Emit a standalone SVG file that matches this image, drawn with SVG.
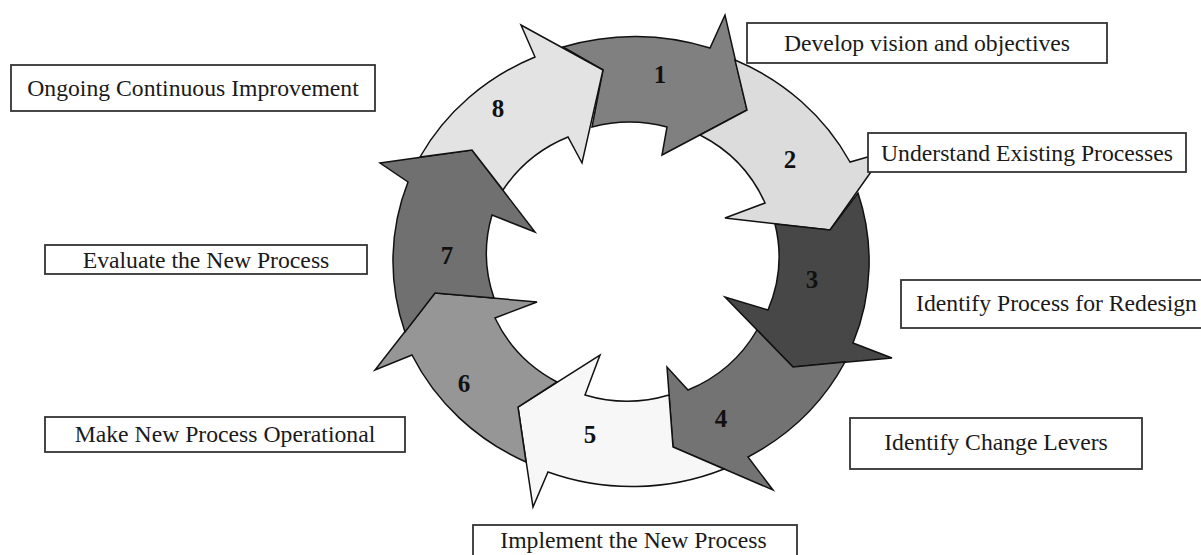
<svg xmlns="http://www.w3.org/2000/svg" width="1201" height="555" viewBox="0 0 1201 555">
<style>
.arr{stroke:#111;stroke-width:1.5;stroke-linejoin:miter}
.num{font-family:"Liberation Serif","Times New Roman",serif;font-weight:bold;font-size:25px;fill:#111;text-anchor:middle}
.box{fill:#fff;stroke:#333;stroke-width:1.8}
.lbl{font-family:"Liberation Serif","Times New Roman",serif;font-size:23.7px;fill:#1a1a1a;text-anchor:middle}
</style>
<rect width="1201" height="555" fill="#fff"/>
<g id="cycle">
<g id="arrow1"><path class="arr" fill="#808080" d="M563 47 A238 226 0 0 1 710 48 L725 15 L747 110 L662 155 L667 127 A143 139 0 0 0 592 127 L603 70 Z"/><text class="num" x="660" y="83">1</text></g>
<g id="arrow2"><path class="arr" fill="#dcdcdc" d="M735 60 A238 226 0 0 1 850 162 L885 152 L830 230 L725 218 L765 203 A143 139 0 0 0 700 135 L747 110 Z"/><text class="num" x="790" y="168">2</text></g>
<g id="arrow3"><path class="arr" fill="#474747" d="M858 193 A238 226 0 0 1 853 343 L892 358 L793 367 L725 297 L768 310 A143 139 0 0 0 775 224 L830 230 Z"/><text class="num" x="812" y="288">3</text></g>
<g id="arrow4"><path class="arr" fill="#737373" d="M845 362 A238 226 0 0 1 748 457 L773 490 L673 447 L667 367 L688 390 A143 139 0 0 0 757 330 L793 367 Z"/><text class="num" x="721" y="427">4</text></g>
<g id="arrow5"><path class="arr" fill="#f7f7f7" d="M724 469 A238 226 0 0 1 548 472 L533 507 L518 407 L600 355 L585 395 A143 139 0 0 0 669 395 L673 447 Z"/><text class="num" x="590" y="443">5</text></g>
<g id="arrow6"><path class="arr" fill="#969696" d="M526 462 A238 226 0 0 1 412 355 L375 370 L435 293 L537 302 L495 318 A143 139 0 0 0 557 382 L518 407 Z"/><text class="num" x="464" y="392">6</text></g>
<g id="arrow7"><path class="arr" fill="#707070" d="M405 332 A238 226 0 0 1 408 182 L380 163 L472 150 L535 232 L492 215 A143 139 0 0 0 494 298 L435 293 Z"/><text class="num" x="447" y="264">7</text></g>
<g id="arrow8"><path class="arr" fill="#e3e3e3" d="M420 157 A238 226 0 0 1 535 57 L521 25 L603 70 L582 163 L568 137 A143 139 0 0 0 503 190 L472 150 Z"/><text class="num" x="498" y="117">8</text></g>
</g>
<g id="connectors"></g>
<g id="box-develop"><rect class="box" x="747" y="23" width="360" height="40"/><text class="lbl" x="927" y="51">Develop vision and objectives</text></g>
<g id="box-understand"><rect class="box" x="868" y="133" width="318" height="39"/><text class="lbl" x="1027" y="161">Understand Existing Processes</text></g>
<g id="box-identify-process"><rect class="box" x="901" y="280" width="320" height="48"/><text class="lbl" x="1056.5" y="311">Identify Process for Redesign</text></g>
<g id="box-change-levers"><rect class="box" x="850" y="418" width="292" height="51"/><text class="lbl" x="996" y="450">Identify Change Levers</text></g>
<g id="box-implement"><rect class="box" x="473" y="525" width="324" height="45"/><text class="lbl" x="633.5" y="548">Implement the New Process</text></g>
<g id="box-operational"><rect class="box" x="45" y="417" width="360" height="35"/><text class="lbl" x="225" y="442">Make New Process Operational</text></g>
<g id="box-evaluate"><rect class="box" x="45" y="245" width="322" height="29"/><text class="lbl" x="206" y="268">Evaluate the New Process</text></g>
<g id="box-ongoing"><rect class="box" x="11" y="65" width="364" height="46"/><text class="lbl" x="193" y="96">Ongoing Continuous Improvement</text></g>
</svg>
